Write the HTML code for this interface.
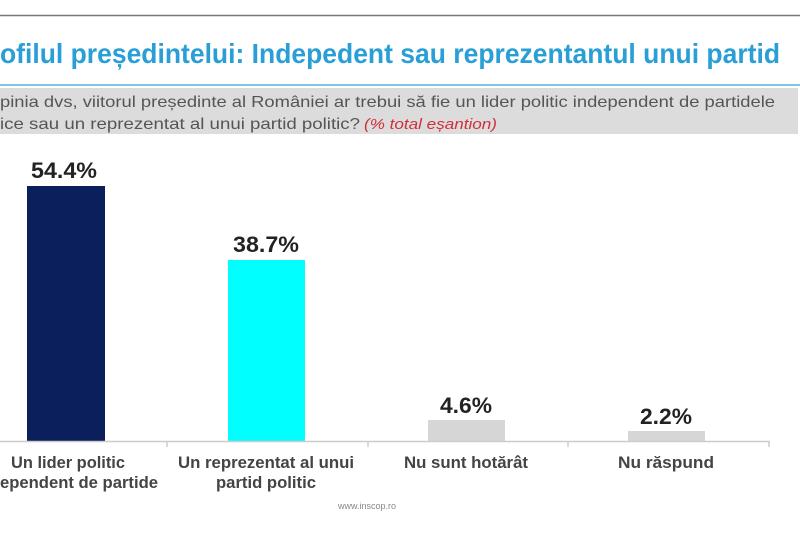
<!DOCTYPE html>
<html><head><meta charset="utf-8"><style>
html,body{margin:0;padding:0;background:#fff;width:800px;height:534px;overflow:hidden}
svg{display:block}
text{font-family:"Liberation Sans",sans-serif}
</style></head><body>
<svg width="800" height="534" viewBox="0 0 800 534">
<rect width="800" height="534" fill="#fff"/>
<line x1="0" y1="15.5" x2="800" y2="15.5" stroke="#777" stroke-width="1.5"/>
<text x="0" y="63" font-size="28" font-weight="bold" fill="#2a9fd6" textLength="780" lengthAdjust="spacingAndGlyphs">ofilul președintelui: Indepedent sau reprezentantul unui partid</text>
<line x1="0" y1="85" x2="800" y2="85" stroke="#7cc7e6" stroke-width="2"/>
<rect x="0" y="88" width="798" height="46" fill="#dcdcdc"/>
<text x="0" y="107" font-size="16" fill="#555" textLength="775" lengthAdjust="spacingAndGlyphs">pinia dvs, viitorul președinte al României ar trebui să fie un lider politic independent de partidele</text>
<text x="0" y="129" font-size="16" fill="#555" textLength="360" lengthAdjust="spacingAndGlyphs">ice sau un reprezentat al unui partid politic?</text>
<text x="364" y="129" font-size="15" font-style="italic" fill="#d0303a" textLength="133" lengthAdjust="spacingAndGlyphs">(% total eșantion)</text>
<rect x="27" y="186" width="78" height="255" fill="#0a1f5c"/>
<rect x="228" y="260" width="77" height="181" fill="#00ffff"/>
<rect x="428" y="420" width="77" height="21" fill="#d6d6d6"/>
<rect x="628" y="431" width="77" height="10" fill="#d6d6d6"/>
<line x1="0" y1="441.5" x2="770" y2="441.5" stroke="#ccc" stroke-width="1.5"/>
<g stroke="#ccc" stroke-width="1.5"><line x1="167" y1="441" x2="167" y2="447"/><line x1="368" y1="441" x2="368" y2="447"/><line x1="568" y1="441" x2="568" y2="447"/><line x1="769" y1="441" x2="769" y2="447"/></g>
<g font-size="22" font-weight="bold" fill="#222" text-anchor="middle">
<text x="64" y="178" textLength="66" lengthAdjust="spacingAndGlyphs">54.4%</text>
<text x="266" y="252" textLength="66" lengthAdjust="spacingAndGlyphs">38.7%</text>
<text x="466" y="413" textLength="52" lengthAdjust="spacingAndGlyphs">4.6%</text>
<text x="666" y="424" textLength="52" lengthAdjust="spacingAndGlyphs">2.2%</text>
</g>
<g font-size="17" font-weight="bold" fill="#444" text-anchor="middle">
<text x="68" y="468" textLength="114" lengthAdjust="spacingAndGlyphs">Un lider politic</text>
<text x="79" y="488" textLength="158" lengthAdjust="spacingAndGlyphs">ependent de partide</text>
<text x="266" y="468" textLength="176" lengthAdjust="spacingAndGlyphs">Un reprezentat al unui</text>
<text x="266" y="488" textLength="100" lengthAdjust="spacingAndGlyphs">partid politic</text>
<text x="466" y="468" textLength="124" lengthAdjust="spacingAndGlyphs">Nu sunt hotărât</text>
<text x="666" y="468" textLength="96" lengthAdjust="spacingAndGlyphs">Nu răspund</text>
</g>
<text x="367" y="509" font-size="9" fill="#888" text-anchor="middle">www.inscop.ro</text>
</svg>
</body></html>
